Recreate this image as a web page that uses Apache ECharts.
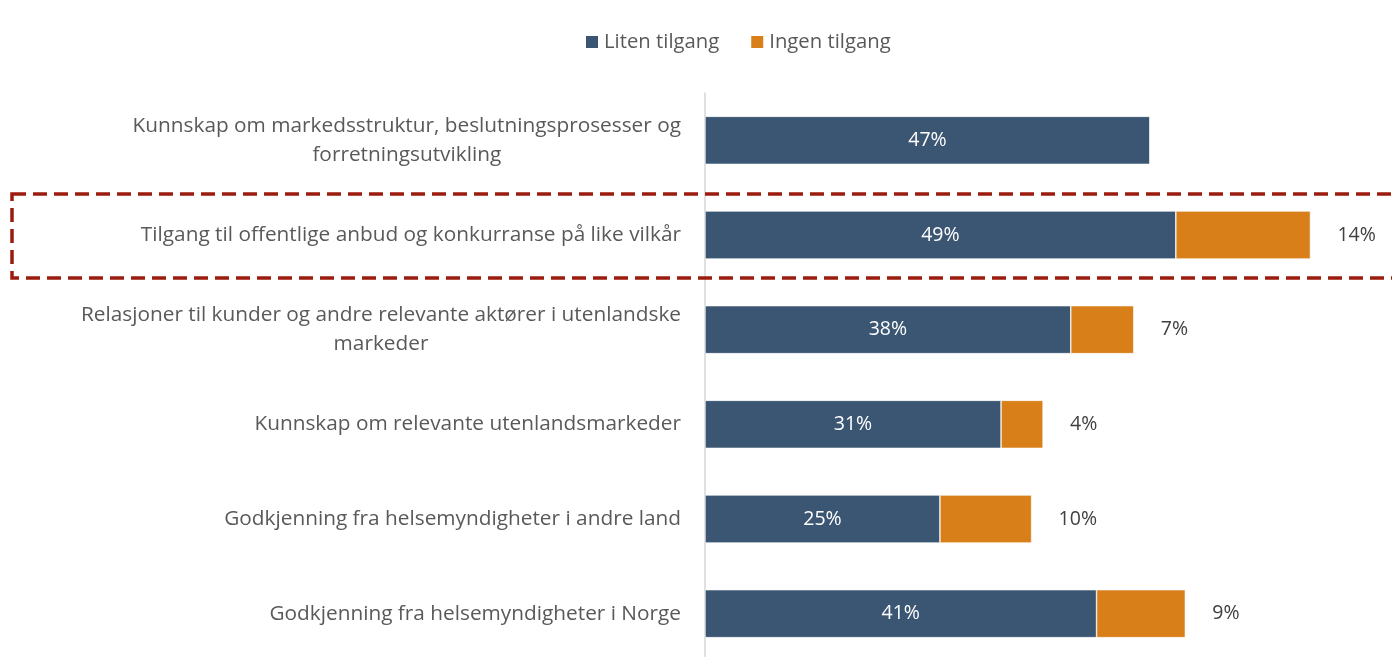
<!DOCTYPE html>
<html>
<head>
    <meta charset="utf-8">
    <title>Tilgang</title>
    <script src="https://cdn.jsdelivr.net/npm/echarts@6/dist/echarts.min.js"></script>
    <style>
        html, body { margin: 0; padding: 0; background: #fff; overflow: hidden; }
        /* the plot runs past the bottom edge of the window, as in the original */
        #main { width: 1392px; height: 672px; }
    </style>
</head>
<body>
<div id="main"></div>
<script>
    // data (top row first), labels shown rounded
    var categories = [
        'Kunnskap om markedsstruktur, beslutningsprosesser og\nforretningsutvikling',
        'Tilgang til offentlige anbud og konkurranse på like vilkår',
        'Relasjoner til kunder og andre relevante aktører i utenlandske\nmarkeder',
        'Kunnskap om relevante utenlandsmarkeder',
        'Godkjenning fra helsemyndigheter i andre land',
        'Godkjenning fra helsemyndigheter i Norge'
    ];
    var litenTilgang = [46.6, 49.3, 38.3, 31.0, 24.6, 41.0];
    var ingenTilgang = [0, 14.1, 6.6, 4.4, 9.6, 9.3];
    var seriesNames = ['Liten tilgang', 'Ingen tilgang'];

    var font = 'Open Sans';
    var fs = 20.8;
    var myChart = echarts.init(document.getElementById('main'));

    function pct(p) {
        return p.value ? Math.round(p.value) + '%' : '';
    }

    var option = {
        animation: false,
        textStyle: { fontFamily: font },
        legend: {
            top: 27,
            left: 579,
            itemWidth: 14,
            itemHeight: 14,
            itemGap: 30,
            icon: 'rect',
            textStyle: { fontSize: 20.3, color: '#595959', fontFamily: font },
            data: seriesNames
        },
        grid: {
            left: 705,
            top: 93,
            width: 668.5,
            height: 568
        },
        xAxis: {
            type: 'value',
            min: 0,
            max: 70,
            show: false
        },
        yAxis: {
            type: 'category',
            inverse: true,
            data: categories,
            axisLine: { show: true, lineStyle: { color: '#d6d6d6', width: 1.5 } },
            axisTick: { show: false },
            axisLabel: {
                margin: 24,
                align: 'right',
                fontSize: fs,
                color: '#595959',
                lineHeight: 29,
                formatter: function (v) {
                    return v.split('\n').map(function (s) { return '{c|' + s + '}'; }).join('\n');
                },
                rich: {
                    c: { align: 'center', fontSize: fs, color: '#595959', lineHeight: 29, fontFamily: font }
                }
            }
        },
        series: [
            {
                name: seriesNames[0],
                type: 'bar',
                stack: 'total',
                barWidth: 48,
                itemStyle: { color: '#3b5673', borderColor: '#ffffff', borderWidth: 0.6 },
                label: {
                    show: true,
                    position: 'inside',
                    color: '#ffffff',
                    fontSize: 19.5,
                    fontFamily: font,
                    formatter: pct
                },
                data: litenTilgang
            },
            {
                name: seriesNames[1],
                type: 'bar',
                stack: 'total',
                barWidth: 48,
                itemStyle: { color: '#d97f1a', borderColor: '#ffffff', borderWidth: 0.6 },
                label: {
                    show: true,
                    position: 'right',
                    distance: 27,
                    color: '#404040',
                    fontSize: 19.5,
                    fontFamily: font,
                    formatter: pct
                },
                data: ingenTilgang
            }
        ],
        graphic: [
            {
                type: 'rect',
                shape: { x: 12, y: 194, width: 1400, height: 84 },
                style: {
                    fill: 'none',
                    stroke: '#9b1b0e',
                    lineWidth: 3.5,
                    lineDash: [14, 7]
                },
                z: 100
            }
        ]
    };

    myChart.setOption(option);
</script>
</body>
</html>
